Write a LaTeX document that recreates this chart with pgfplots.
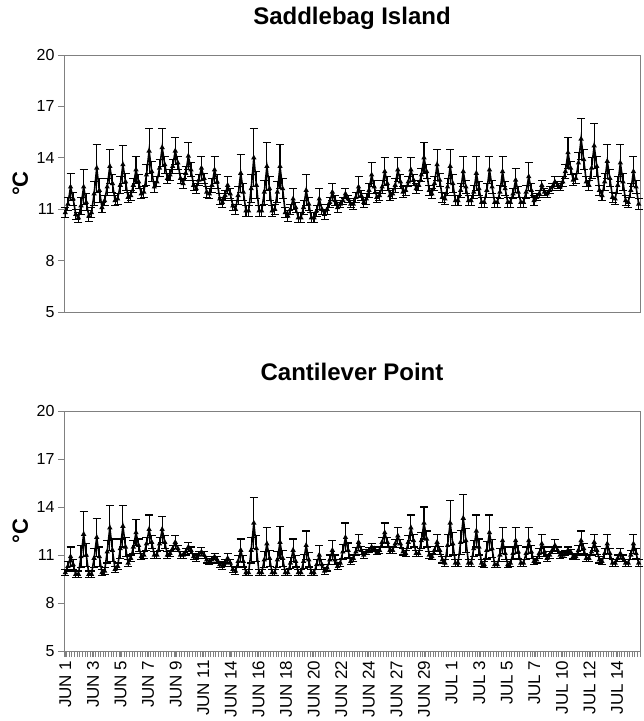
\documentclass[border=0pt]{standalone}
\usepackage{pgfplots}
\pgfplotsset{compat=1.18}
\usepackage{pgfplotstable}
\usepackage{fontspec}
\setmainfont{Liberation Sans}

% Saddlebag Island: mean temperature and SD, 5 readings per day
\pgfplotstableread[row sep=\\]{
y e\\
10.8 .3\\ 11.3 .4\\ 12.3 .8\\ 11.6 .4\\ 10.7 .3\\
10.5 .3\\ 11.2 .5\\ 12.3 1.0\\ 11.4 .5\\ 10.6 .3\\
10.8 .3\\ 11.9 .7\\ 13.4 1.4\\ 12.1 .7\\ 11.1 .3\\
11.5 .3\\ 12.3 .5\\ 13.5 1.0\\ 12.5 .5\\ 11.5 .3\\
11.6 .3\\ 12.4 .5\\ 13.6 1.1\\ 12.6 .5\\ 11.7 .3\\
11.8 .3\\ 12.4 .4\\ 13.3 .8\\ 12.6 .4\\ 11.9 .3\\
12.0 .3\\ 13.0 .6\\ 14.4 1.3\\ 13.2 .6\\ 12.3 .3\\
12.6 .3\\ 13.4 .5\\ 14.6 1.1\\ 13.6 .5\\ 12.8 .3\\
13.0 .3\\ 13.5 .4\\ 14.4 .8\\ 13.7 .4\\ 12.8 .3\\
12.5 .3\\ 13.1 .4\\ 14.1 .8\\ 13.3 .4\\ 12.4 .3\\
12.2 .3\\ 12.7 .3\\ 13.4 .7\\ 12.8 .3\\ 12.0 .3\\
11.9 .3\\ 12.4 .4\\ 13.3 .8\\ 12.6 .4\\ 11.6 .3\\
11.4 .3\\ 11.8 .3\\ 12.4 .5\\ 11.9 .3\\ 11.2 .3\\
11.0 .3\\ 11.8 .5\\ 13.1 1.1\\ 12.0 .5\\ 10.9 .3\\
10.9 .3\\ 12.2 .8\\ 14.0 1.7\\ 12.4 .8\\ 10.9 .3\\
10.9 .3\\ 12.0 .7\\ 13.5 1.4\\ 12.2 .7\\ 10.9 .3\\
11.0 .3\\ 12.0 .6\\ 13.5 1.3\\ 12.2 .6\\ 10.8 .3\\
10.6 .3\\ 11.0 .3\\ 11.6 .6\\ 11.1 .3\\ 10.5 .3\\
10.5 .3\\ 11.1 .4\\ 12.1 .9\\ 11.3 .4\\ 10.5 .3\\
10.5 .3\\ 10.9 .3\\ 11.6 .6\\ 11.0 .3\\ 10.7 .3\\
11.0 .3\\ 11.4 .3\\ 12.0 .5\\ 11.5 .3\\ 11.1 .3\\
11.3 .2\\ 11.5 .2\\ 11.9 .3\\ 11.6 .2\\ 11.3 .2\\
11.3 .3\\ 11.7 .3\\ 12.3 .6\\ 11.8 .3\\ 11.4 .3\\
11.6 .3\\ 12.1 .4\\ 13.0 .7\\ 12.3 .4\\ 11.7 .3\\
11.8 .3\\ 12.3 .4\\ 13.2 .8\\ 12.5 .4\\ 11.8 .3\\
11.9 .3\\ 12.4 .4\\ 13.3 .7\\ 12.6 .4\\ 12.0 .3\\
12.1 .3\\ 12.6 .3\\ 13.3 .7\\ 12.7 .3\\ 12.2 .3\\
12.4 .3\\ 13.0 .4\\ 14.0 .9\\ 13.2 .4\\ 12.1 .3\\
11.9 .3\\ 12.5 .4\\ 13.6 .9\\ 12.7 .4\\ 11.7 .3\\
11.6 .3\\ 12.3 .5\\ 13.5 1.0\\ 12.5 .5\\ 11.5 .3\\
11.5 .3\\ 12.1 .4\\ 13.2 .9\\ 12.3 .4\\ 11.5 .3\\
11.5 .3\\ 12.0 .4\\ 13.1 1.0\\ 12.2 .4\\ 11.4 .3\\
11.4 .3\\ 12.1 .4\\ 13.3 .8\\ 12.3 .4\\ 11.4 .3\\
11.4 .3\\ 12.0 .4\\ 13.2 .9\\ 12.2 .4\\ 11.4 .3\\
11.4 .3\\ 11.9 .3\\ 12.7 .7\\ 12.0 .3\\ 11.4 .3\\
11.4 .3\\ 12.0 .4\\ 12.9 .8\\ 12.1 .4\\ 11.5 .3\\
11.7 .2\\ 11.9 .2\\ 12.4 .3\\ 12.0 .2\\ 11.9 .2\\
12.1 .2\\ 12.3 .2\\ 12.6 .3\\ 12.4 .2\\ 12.3 .2\\
12.6 .3\\ 13.2 .4\\ 14.3 .9\\ 13.4 .4\\ 12.7 .3\\
12.8 .3\\ 13.7 .6\\ 15.1 1.2\\ 13.9 .6\\ 12.6 .3\\
12.4 .3\\ 13.4 .6\\ 14.7 1.3\\ 13.5 .6\\ 12.1 .3\\
11.8 .3\\ 12.6 .5\\ 13.8 1.0\\ 12.8 .5\\ 11.7 .3\\
11.6 .3\\ 12.4 .5\\ 13.7 1.1\\ 12.6 .5\\ 11.5 .3\\
11.4 .3\\ 12.1 .4\\ 13.2 .9\\ 12.3 .4\\ 11.3 .3\\
}\saddlebag

% Cantilever Point
\pgfplotstableread[row sep=\\]{
y e\\
9.9 .2\\ 10.3 .3\\ 10.9 .6\\ 10.4 .3\\ 9.8 .2\\
9.8 .2\\ 10.9 .7\\ 12.3 1.4\\ 11.0 .7\\ 9.8 .2\\
9.8 .2\\ 10.8 .6\\ 12.1 1.2\\ 10.9 .6\\ 9.9 .2\\
10.0 .2\\ 11.2 .7\\ 12.7 1.4\\ 11.3 .7\\ 10.1 .2\\
10.3 .2\\ 11.4 .6\\ 12.8 1.3\\ 11.5 .6\\ 10.5 .2\\
10.8 .2\\ 11.5 .4\\ 12.4 .8\\ 11.6 .4\\ 10.9 .2\\
11.0 .2\\ 11.7 .4\\ 12.6 .9\\ 11.8 .4\\ 11.0 .2\\
11.0 .2\\ 11.7 .4\\ 12.6 .8\\ 11.8 .4\\ 11.0 .2\\
11.1 .2\\ 11.4 .2\\ 11.8 .4\\ 11.4 .2\\ 11.0 .2\\
11.0 .2\\ 11.2 .2\\ 11.5 .3\\ 11.3 .2\\ 10.9 .2\\
10.8 .2\\ 11.0 .2\\ 11.2 .25\\ 11.0 .2\\ 10.7 .2\\
10.6 .2\\ 10.7 .2\\ 10.9 .2\\ 10.7 .2\\ 10.4 .2\\
10.3 .2\\ 10.5 .2\\ 10.8 .3\\ 10.5 .2\\ 10.1 .2\\
10.0 .2\\ 10.6 .35\\ 11.3 .7\\ 10.6 .35\\ 9.9 .2\\
9.9 .2\\ 11.3 .8\\ 13.0 1.6\\ 11.4 .8\\ 9.9 .2\\
9.9 .2\\ 10.7 .5\\ 11.7 1.0\\ 10.8 .5\\ 9.9 .2\\
9.9 .2\\ 10.7 .5\\ 11.8 1.0\\ 10.8 .5\\ 9.9 .2\\
9.9 .2\\ 10.5 .35\\ 11.3 .7\\ 10.6 .35\\ 9.9 .2\\
9.9 .2\\ 10.6 .45\\ 11.6 .9\\ 10.7 .45\\ 9.9 .2\\
9.9 .2\\ 10.4 .3\\ 11.0 .6\\ 10.4 .3\\ 10.0 .2\\
10.2 .2\\ 10.7 .3\\ 11.3 .6\\ 10.7 .3\\ 10.3 .2\\
10.5 .2\\ 11.2 .45\\ 12.1 .9\\ 11.3 .45\\ 10.6 .2\\
10.8 .2\\ 11.2 .25\\ 11.8 .5\\ 11.3 .25\\ 11.0 .2\\
11.2 .15\\ 11.3 .15\\ 11.5 .2\\ 11.4 .15\\ 11.2 .15\\
11.3 .2\\ 11.8 .3\\ 12.4 .6\\ 11.8 .3\\ 11.3 .2\\
11.3 .2\\ 11.7 .25\\ 12.2 .5\\ 11.7 .25\\ 11.2 .2\\
11.1 .2\\ 11.8 .4\\ 12.7 .8\\ 11.9 .4\\ 11.1 .2\\
11.1 .2\\ 11.9 .5\\ 13.0 1.0\\ 12.0 .5\\ 11.0 .2\\
10.9 .2\\ 11.3 .25\\ 11.8 .5\\ 11.3 .25\\ 10.7 .2\\
10.5 .2\\ 11.6 .7\\ 13.0 1.4\\ 11.7 .7\\ 10.5 .2\\
10.5 .2\\ 11.8 .75\\ 13.3 1.5\\ 11.9 .75\\ 10.5 .2\\
10.5 .2\\ 11.4 .5\\ 12.5 1.0\\ 11.5 .5\\ 10.5 .2\\
10.4 .2\\ 11.3 .55\\ 12.4 1.1\\ 11.4 .55\\ 10.4 .2\\
10.4 .2\\ 11.0 .4\\ 11.9 .8\\ 11.1 .4\\ 10.4 .2\\
10.5 .2\\ 11.1 .4\\ 11.9 .8\\ 11.2 .4\\ 10.5 .2\\
10.5 .2\\ 11.1 .4\\ 11.9 .8\\ 11.2 .4\\ 10.6 .2\\
10.7 .2\\ 11.1 .3\\ 11.7 .6\\ 11.2 .3\\ 10.8 .2\\
11.0 .2\\ 11.3 .2\\ 11.6 .35\\ 11.3 .2\\ 11.0 .2\\
11.0 .15\\ 11.1 .15\\ 11.3 .2\\ 11.2 .15\\ 10.9 .15\\
10.9 .2\\ 11.3 .3\\ 11.9 .6\\ 11.4 .3\\ 10.8 .2\\
10.8 .2\\ 11.2 .25\\ 11.8 .5\\ 11.3 .25\\ 10.7 .2\\
10.6 .2\\ 11.1 .3\\ 11.7 .6\\ 11.1 .3\\ 10.5 .2\\
10.5 .2\\ 10.8 .2\\ 11.1 .3\\ 10.8 .2\\ 10.5 .2\\
10.5 .2\\ 11.0 .3\\ 11.7 .6\\ 11.1 .3\\ 10.5 .2\\
}\cantilever

\pgfplotsset{
  tempaxis/.style={
    scale only axis,
    width=576pt,
    xmin=-0.5, xmax=219.5,
    ymin=5, ymax=20,
    ytick={5,8,11,14,17,20},
    /pgf/number format/assume math mode=true,
    yticklabel style={font=\fontsize{16}{16}\selectfont},
    axis line style={gray, line width=0.8pt},
    tick style={gray, line width=0.8pt},
    tick align=outside,
    major tick length=6pt,
    minor tick length=6pt,
    ytick pos=left,
    ylabel={°C},
    ylabel style={font=\bfseries\fontsize{22}{22}\selectfont,
      at={(axis description cs:-0.076,0.5)}, anchor=center},
    title style={font=\bfseries\fontsize{24}{24}\selectfont,
      at={(axis description cs:0.5,1)}, anchor=base, yshift=25pt},
    clip=false,
  },
  templine/.style={
    black, line width=1.6pt, mark=triangle*, mark size=1.5pt,
    error bars/.cd, y dir=both, y explicit,
    error bar style={line width=1.1pt, black},
    error mark options={rotate=90, black, line width=1.1pt, mark size=4pt},
  },
}

\begin{document}
\begin{tikzpicture}
\useasboundingbox (-64pt,55pt) rectangle (580pt,-666pt);
\begin{axis}[tempaxis,
  at={(0,0)}, anchor=north west,
  height=257pt,
  xtick=\empty,
  title={Saddlebag Island},
]
\addplot[templine] table[x expr=\coordindex, y=y, y error=e]{\saddlebag};
\end{axis}

\begin{axis}[tempaxis,
  at={(0,-356pt)}, anchor=north west,
  height=240pt,
  title={Cantilever Point},
  xtick={0,10.54,...,211},
  xticklabels={JUN 1,JUN 3,JUN 5,JUN 7,JUN 9,JUN 11,JUN 14,JUN 16,JUN 18,JUN 20,JUN 22,JUN 24,JUN 27,JUN 29,JUL 1,JUL 3,JUL 5,JUL 7,JUL 10,JUL 12,JUL 14},
  xticklabel style={rotate=90, anchor=east, font=\fontsize{17}{17}\selectfont},
  minor xtick={-0.5,0.5,...,219.5},
  xtick pos=bottom,
]
\addplot[templine] table[x expr=\coordindex, y=y, y error=e]{\cantilever};
\end{axis}
\end{tikzpicture}
\end{document}
